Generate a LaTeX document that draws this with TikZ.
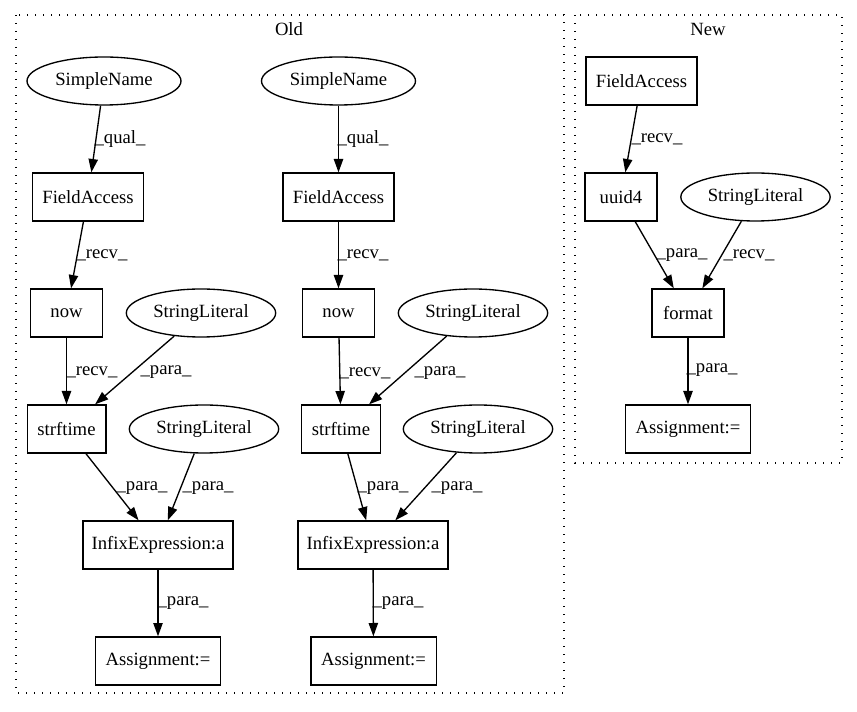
\documentclass[tikz,border=0pt]{standalone}
\usepackage{fontspec}
\setmainfont{Liberation Serif}
\usetikzlibrary{arrows.meta,shapes.geometric}
\begin{document}
\begin{tikzpicture}[x=0.75pt,y=-0.75pt,
  every node/.style={font=\fontsize{14}{16}\selectfont},
  box/.style={draw, rectangle, line width=1pt, minimum height=36pt, inner sep=0pt},
  oval/.style={draw, ellipse, line width=1pt, minimum height=36pt, inner sep=0pt},
  edge/.style={draw, line width=1pt, -{Triangle[length=10pt,width=7pt]}},
  lbl/.style={inner sep=0pt},
  cluster/.style={draw, line width=1pt, dash pattern=on 1pt off 5pt}]
\useasboundingbox (0,0) rectangle (857,712);
% clusters
\draw[cluster] (16,15) rectangle (564,693);
\draw[cluster] (575,15) rectangle (842,463);
\node[lbl] (told) at (289,29) {Old};
\node[lbl] (tnew) at (708,29) {New};
% Old left
\node[oval, minimum width=115.5pt] (sn1) at (104,81) {SimpleName};
\node[box, minimum width=83.25pt] (fa1) at (88,197) {FieldAccess};
\node[box, minimum width=54pt] (now1) at (66.5,313) {now};
\node[oval, minimum width=112pt] (sl1) at (201,313) {StringLiteral};
\node[box, minimum width=59pt] (st1) at (66.5,429) {strftime};
\node[oval, minimum width=112pt] (sl3) at (204,429) {StringLiteral};
\node[box, minimum width=112.5pt] (in1) at (158,545) {InfixExpression:a};
\node[box, minimum width=94pt] (as1) at (158,661) {Assignment:=};
% Old right
\node[oval, minimum width=115.5pt] (sn2) at (338.5,81) {SimpleName};
\node[box, minimum width=83.25pt] (fa2) at (338.5,197) {FieldAccess};
\node[box, minimum width=54pt] (now2) at (338.5,313) {now};
\node[oval, minimum width=112pt] (sl2) at (473,313) {StringLiteral};
\node[box, minimum width=59pt] (st2) at (341,429) {strftime};
\node[oval, minimum width=112pt] (sl4) at (478,429) {StringLiteral};
\node[box, minimum width=112.5pt] (in2) at (373,545) {InfixExpression:a};
\node[box, minimum width=94pt] (as2) at (373.5,661) {Assignment:=};
% New
\node[box, minimum width=83.25pt] (fa3) at (641.5,81) {FieldAccess};
\node[box, minimum width=54pt] (uu) at (621,197) {uuid4};
\node[oval, minimum width=112pt] (sl5) at (755.5,197) {StringLiteral};
\node[box, minimum width=54pt] (fmt) at (688,313) {format};
\node[box, minimum width=94pt] (as3) at (688,429) {Assignment:=};
% edges old left
\draw[edge] (sn1) -- (fa1);
\draw[edge] (fa1) -- (now1);
\draw[edge] (now1) -- (st1);
\draw[edge] (sl1) -- (st1);
\draw[edge] (st1) -- (in1);
\draw[edge] (sl3) -- (in1);
\draw[edge] (in1) -- (as1);
% edges old right
\draw[edge] (sn2) -- (fa2);
\draw[edge] (fa2) -- (now2);
\draw[edge] (now2) -- (st2);
\draw[edge] (sl2) -- (st2);
\draw[edge] (st2) -- (in2);
\draw[edge] (sl4) -- (in2);
\draw[edge] (in2) -- (as2);
% edges new
\draw[edge] (fa3) -- (uu);
\draw[edge] (uu) -- (fmt);
\draw[edge] (sl5) -- (fmt);
\draw[edge] (fmt) -- (as3);
% edge labels
\node[lbl] (l1) at (120,139) {\_qual\_};
\node[lbl] (l2) at (102,255) {\_recv\_};
\node[lbl] (l3) at (92,372) {\_recv\_};
\node[lbl] (l4) at (166,372) {\_para\_};
\node[lbl] (l5) at (142,488) {\_para\_};
\node[lbl] (l6) at (208,488) {\_para\_};
\node[lbl] (l7) at (183,603) {\_para\_};
\node[lbl] (r1) at (363,139) {\_qual\_};
\node[lbl] (r2) at (363,255) {\_recv\_};
\node[lbl] (r3) at (365,373) {\_recv\_};
\node[lbl] (r4) at (440,373) {\_para\_};
\node[lbl] (r5) at (383,488) {\_para\_};
\node[lbl] (r6) at (457,488) {\_para\_};
\node[lbl] (r7) at (398,603) {\_para\_};
\node[lbl] (n1) at (657,139) {\_recv\_};
\node[lbl] (n2) at (682,255) {\_para\_};
\node[lbl] (n3) at (749,255) {\_recv\_};
\node[lbl] (n4) at (712,370) {\_para\_};
\end{tikzpicture}
\end{document}
